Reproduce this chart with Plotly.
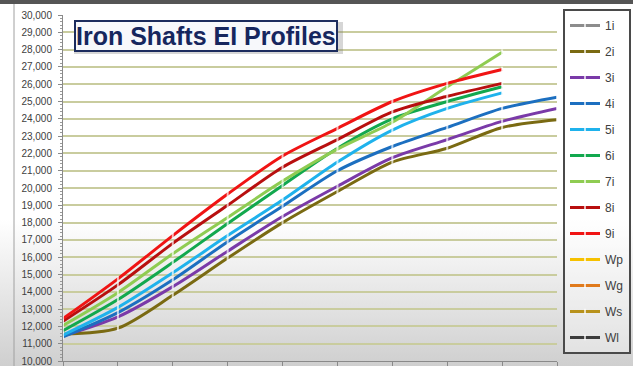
import base64
import plotly.graph_objects as go

# ---------------- data ----------------
points = [1, 2, 3, 4, 5, 6, 7, 8, 9, 10]
series_names = ["1i", "2i", "3i", "4i", "5i", "6i", "7i", "8i", "9i", "Wp", "Wg", "Ws", "Wl"]
s_1i = []
s_2i = [11550, 11900, 13800, 15950, 18000, 19800, 21500, 22300, 23500, 23950]
s_3i = [11450, 12550, 14300, 16350, 18350, 20100, 21750, 22800, 23850, 24600]
s_4i = [11400, 12800, 14700, 16900, 18950, 21000, 22400, 23500, 24600, 25250]
s_5i = [11500, 13100, 15100, 17250, 19300, 21500, 23350, 24600, 25500]
s_6i = [11750, 13550, 15700, 17950, 20150, 22300, 24000, 25000, 25850]
s_7i = [12050, 13950, 16200, 18300, 20400, 22250, 23800, 25850, 27850]
s_8i = [12300, 14400, 16800, 19000, 21200, 22800, 24400, 25300, 26050]
s_9i = [12450, 14750, 17250, 19650, 21850, 23450, 25000, 26050, 26850]
s_wp = []
s_wg = []
s_ws = []
s_wl = []
series_values = [s_1i, s_2i, s_3i, s_4i, s_5i, s_6i, s_7i, s_8i, s_9i, s_wp, s_wg, s_ws, s_wl]
y_ticks = list(range(10000, 30001, 1000))
title_text = "Iron Shafts EI Profiles"

# ---------------- styles ----------------
colors = ["#8c8c8c", "#7a6a12", "#7a3aa8", "#1c6fc0", "#1fb2ec", "#12a84e", "#8fcc52",
          "#b80f0f", "#f01414", "#f6c100", "#e07a1c", "#b8921c", "#3c3c3c"]

W, H = 633, 366
L, R, T, B = 63, 76, 15, 5
PW, PH = W - L - R, H - T - B


def px(xp):
    return (xp - L) / PW


def py(yp):
    return (H - B - yp) / PH


fig = go.Figure()
for name, vals, col in zip(series_names, series_values, colors):
    xs = points[:len(vals)] if vals else [None]
    ys = vals if vals else [None]
    fig.add_trace(go.Scatter(
        x=xs, y=ys, name=name, mode="lines+markers",
        line=dict(color=col, width=3, shape="spline", smoothing=0.8),
        marker=dict(symbol="line-ns", size=4, color="rgba(255,255,255,0.7)",
                    line=dict(color="rgba(255,255,255,0.7)", width=2)),
        legendgroup=name, showlegend=True,
    ))

svg = ('<svg xmlns="http://www.w3.org/2000/svg" width="633" height="366" preserveAspectRatio="none">'
       '<defs><linearGradient id="g" x1="0" y1="0" x2="0" y2="1">'
       '<stop offset="0" stop-color="#ffffff"/><stop offset="0.6" stop-color="#ffffff"/>'
       '<stop offset="1" stop-color="#cfcfcf"/></linearGradient></defs>'
       '<rect width="633" height="366" fill="url(#g)"/></svg>')
src = "data:image/svg+xml;base64," + base64.b64encode(svg.encode()).decode()

fig.update_layout(
    width=W, height=H,
    margin=dict(l=L, r=R, t=T, b=B, autoexpand=False),
    paper_bgcolor="white",
    plot_bgcolor="rgba(0,0,0,0)",
    images=[dict(source=src, xref="paper", yref="paper", x=px(0), y=py(0),
                 sizex=W / PW, sizey=H / PH, sizing="stretch", layer="below",
                 xanchor="left", yanchor="top")],
    font=dict(family="Liberation Sans, Arial, sans-serif", color="#404040"),
    xaxis=dict(range=[1, 10], tickmode="linear", tick0=1, dtick=1, showticklabels=False,
               showgrid=False, zeroline=False, showline=True, linecolor="#8a8a8a",
               linewidth=1, ticks="outside", ticklen=5, tickcolor="#8a8a8a"),
    yaxis=dict(range=[10000, 30000], tickvals=y_ticks, tickformat=",", showgrid=True,
               gridcolor="#c9cc9e", gridwidth=2, zeroline=False, showline=True,
               linecolor="#8a8a8a", linewidth=1, ticks="outside", ticklen=4,
               tickcolor="#8a8a8a", tickfont=dict(size=10, color="#404040"),
               ticklabelstandoff=4, ticklabeloverflow="allow",
               minor=dict(dtick=200, ticks="outside", ticklen=2, tickcolor="#9a9a9a", showgrid=False)),
    showlegend=True,
    legend=dict(x=px(563), y=py(9), xanchor="left", yanchor="top",
                bgcolor="rgba(255,255,255,0.35)", bordercolor="#4a4a4a", borderwidth=2,
                font=dict(size=12, family="Liberation Sans Narrow, Arial Narrow, Liberation Sans, Arial",
                          color="#404040"),
                tracegroupgap=7, itemwidth=30, maxheight=360),
    shapes=[
        dict(type="rect", xref="paper", yref="paper", x0=px(0), x1=px(W), y0=py(4), y1=py(0),
             fillcolor="#555555", line=dict(width=0), layer="above"),
        dict(type="line", xref="paper", yref="paper", x0=px(14), x1=px(14), y0=py(H), y1=py(4),
             line=dict(color="#a0a0a0", width=1), layer="above"),
        dict(type="rect", xref="paper", yref="paper", x0=px(74), x1=px(343), y0=py(54), y1=py(22),
             fillcolor="rgba(120,120,120,0.3)", line=dict(width=0), layer="above"),
    ],
    annotations=[dict(text="<b>" + title_text + "</b>", xref="paper", yref="paper",
                      x=px(206), y=py(35.5), xanchor="center", yanchor="middle",
                      showarrow=False, font=dict(size=25, color="#16265e",
                                                 family="Liberation Sans, Arial, sans-serif"),
                      bgcolor="#f7f8fb", bordercolor="#1c2c5e", borderwidth=2, borderpad=0)],
)

fig.write_html("out.html")
